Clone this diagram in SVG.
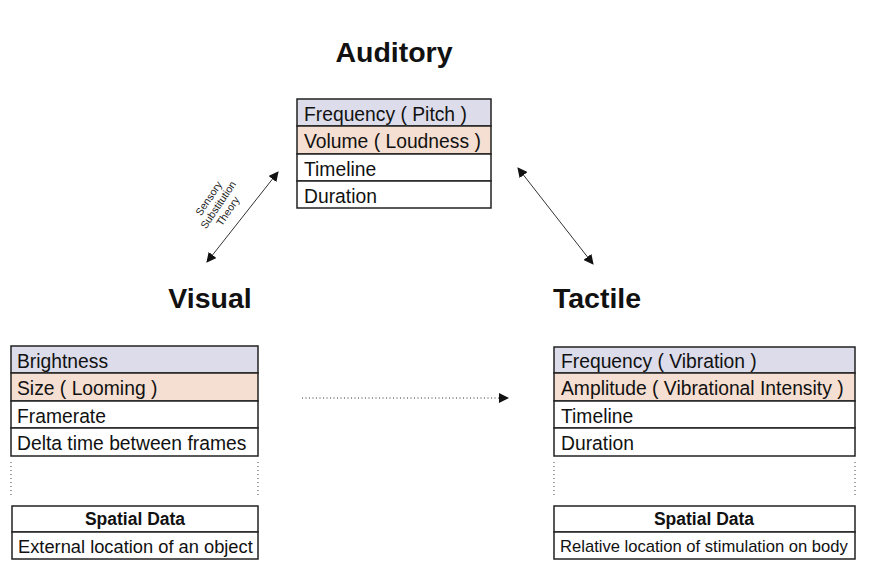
<svg xmlns="http://www.w3.org/2000/svg" width="873" height="575" viewBox="0 0 873 575">
<style>
.t{font-family:"Liberation Sans",Arial,sans-serif;font-size:19.3px;fill:#111}
.h{font-family:"Liberation Sans",Arial,sans-serif;font-size:28.5px;font-weight:bold;fill:#111;text-anchor:middle}
.b{font-family:"Liberation Sans",Arial,sans-serif;font-size:17.5px;font-weight:bold;fill:#111;text-anchor:middle}
.s{font-family:"Liberation Sans",Arial,sans-serif;font-size:18.3px;fill:#111}
.r{stroke:#222;stroke-width:1.5}
.lav{fill:#dcdcea}
.pch{fill:#f5dfd2}
.wh{fill:#fff}
.dot{stroke:#444;stroke-width:1;stroke-dasharray:1 3;fill:none}
.lbl{font-family:"Liberation Sans",Arial,sans-serif;font-size:10.5px;fill:#222;text-anchor:middle}
</style>
<defs>
<marker id="ah" viewBox="0 0 10 10" refX="9" refY="5" markerWidth="10" markerHeight="10" markerUnits="userSpaceOnUse" orient="auto-start-reverse">
<path d="M0,0 L10,5 L0,10 z" fill="#111"/>
</marker>
</defs>
<rect width="873" height="575" fill="#fff"/>

<g id="auditory">
<text class="h" x="394" y="62">Auditory</text>
<rect class="r lav" x="297" y="99" width="194" height="27"/>
<rect class="r pch" x="297" y="126" width="194" height="28"/>
<rect class="r wh" x="297" y="154" width="194" height="27"/>
<rect class="r wh" x="297" y="181" width="194" height="27"/>
<text class="t" x="304" y="121">Frequency ( Pitch )</text>
<text class="t" x="304" y="148">Volume ( Loudness )</text>
<text class="t" x="304" y="176">Timeline</text>
<text class="t" x="304" y="203">Duration</text>
</g>

<g id="visual">
<text class="h" x="210" y="308">Visual</text>
<rect class="r lav" x="11" y="346" width="247" height="27"/>
<rect class="r pch" x="11" y="373" width="247" height="28"/>
<rect class="r wh" x="11" y="401" width="247" height="27"/>
<rect class="r wh" x="11" y="428" width="247" height="28"/>
<text class="t" x="17" y="368">Brightness</text>
<text class="t" x="17" y="395">Size ( Looming )</text>
<text class="t" x="17" y="423">Framerate</text>
<text class="t" x="17" y="450">Delta time between frames</text>
<line class="dot" x1="11" y1="462" x2="11" y2="498"/>
<line class="dot" x1="258" y1="462" x2="258" y2="498"/>
<rect class="r wh" x="12" y="506" width="246" height="26"/>
<rect class="r wh" x="12" y="532" width="246" height="27"/>
<text class="b" x="135" y="525">Spatial Data</text>
<text class="s" x="18" y="553">External location of an object</text>
</g>

<g id="tactile">
<text class="h" x="597" y="308">Tactile</text>
<rect class="r lav" x="554" y="347" width="301" height="26"/>
<rect class="r pch" x="554" y="373" width="301" height="28"/>
<rect class="r wh" x="554" y="401" width="301" height="27"/>
<rect class="r wh" x="554" y="428" width="301" height="28"/>
<text class="t" x="561" y="368">Frequency ( Vibration )</text>
<text class="t" x="561" y="395">Amplitude ( Vibrational Intensity )</text>
<text class="t" x="561" y="423">Timeline</text>
<text class="t" x="561" y="450">Duration</text>
<line class="dot" x1="554" y1="462" x2="554" y2="498"/>
<line class="dot" x1="855" y1="462" x2="855" y2="498"/>
<rect class="r wh" x="554" y="506" width="301" height="26"/>
<rect class="r wh" x="554" y="532" width="301" height="27"/>
<text class="b" x="704" y="525">Spatial Data</text>
<text class="s" x="560" y="552" style="font-size:16.6px">Relative location of stimulation on body</text>
</g>

<g id="connectors">
<line x1="278" y1="172" x2="207" y2="262" stroke="#333" stroke-width="1" marker-start="url(#ah)" marker-end="url(#ah)"/>
<line x1="518" y1="168" x2="593" y2="264" stroke="#333" stroke-width="1" marker-start="url(#ah)" marker-end="url(#ah)"/>
<line x1="302" y1="398" x2="508" y2="398" stroke="#333" stroke-width="1.2" stroke-dasharray="1 2.5" marker-end="url(#ah)"/>
<g transform="translate(220,206) rotate(-56)">
<text class="lbl" x="0" y="-10">Sensory</text>
<text class="lbl" x="0" y="1.5">Substitution</text>
<text class="lbl" x="0" y="13">Theory</text>
</g>
</g>
</svg>
